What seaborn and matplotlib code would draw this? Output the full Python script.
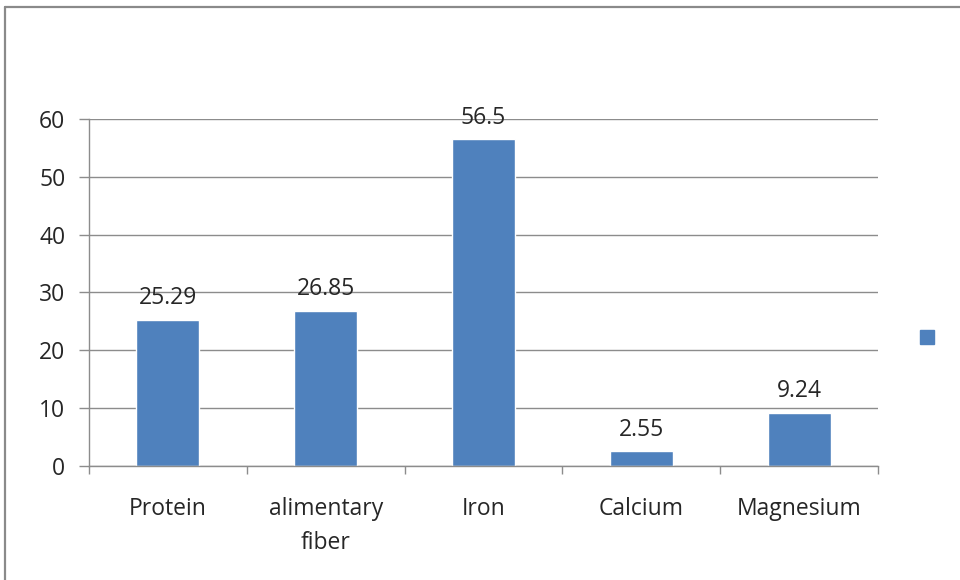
import pandas as pd
import seaborn as sns
from matplotlib import pyplot as plt
from matplotlib.patches import Rectangle
from matplotlib.lines import Line2D

# Chart data
nutrients = ['Protein', 'alimentary\nfiber', 'Iron', 'Calcium', 'Magnesium']
values = [25.29, 26.85, 56.5, 2.55, 9.24]
value_labels = ['25.29', '26.85', '56.5', '2.55', '9.24']
y_ticks = [0, 10, 20, 30, 40, 50, 60]

df = pd.DataFrame({'nutrient': nutrients, 'value': values})

sns.set_style('white')
plt.rcParams['font.family'] = ['Open Sans', 'DejaVu Sans']
text_color = '#262626'
grid_color = '#8c8c8c'
bar_color = '#4f81bd'
font_size = 16.5

fig = plt.figure(figsize=(9.6, 5.8), dpi=100)
ax = fig.add_axes([0.0927, 0.1966, 0.822, 0.5982])

sns.barplot(data=df, x='nutrient', y='value', color=bar_color, width=0.4,
            saturation=1, ax=ax)

# Value labels above the bars
ax.bar_label(ax.containers[0], labels=value_labels, padding=7,
             fontsize=font_size, color=text_color)

ax.set_xlim(-0.5, len(nutrients) - 0.5)
ax.set_ylim(0, 60)
ax.set_yticks(y_ticks)
ax.set_xlabel('')
ax.set_ylabel('')

# Gridlines and axes styling
ax.grid(axis='y', color=grid_color, linewidth=1)
ax.set_axisbelow(True)
for side in ['top', 'right']:
    ax.spines[side].set_visible(False)
for side in ['left', 'bottom']:
    ax.spines[side].set_color(grid_color)
    ax.spines[side].set_linewidth(1)

ax.tick_params(axis='y', left=True, length=7, width=1, color=grid_color,
               labelsize=font_size, labelcolor=text_color, pad=10)
ax.tick_params(axis='x', which='major', length=0, pad=22,
               labelsize=font_size, labelcolor=text_color)
for lbl in ax.get_xticklabels():
    lbl.set_linespacing(1.6)
ax.set_xticks([i - 0.5 for i in range(len(nutrients) + 1)], minor=True)
ax.tick_params(axis='x', which='minor', bottom=True, length=6, width=1,
               color=grid_color)

# Legend marker (series without a name)
fig.add_artist(Rectangle((920 / 960, 1 - 344 / 580), 14 / 960, 14 / 580,
                         transform=fig.transFigure, color=bar_color))

# Chart area border
fig.add_artist(Line2D([5 / 960, 5 / 960], [0, 1 - 7 / 580],
                      transform=fig.transFigure, color='#8a8a8a', linewidth=1.6))
fig.add_artist(Line2D([5 / 960, 1], [1 - 7 / 580, 1 - 7 / 580],
                      transform=fig.transFigure, color='#8a8a8a', linewidth=1.6))

fig.savefig('out.png', dpi=100, facecolor='white')
